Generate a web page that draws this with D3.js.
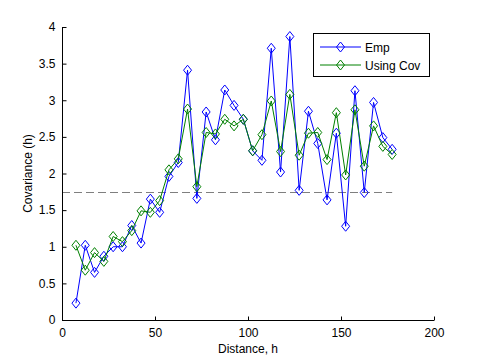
<!DOCTYPE html>
<html><head><meta charset="utf-8">
<script src="https://cdn.jsdelivr.net/npm/d3@7"></script>
<style>body{margin:0;background:#fff}svg{display:block}text{font-family:"Liberation Sans",Arial,sans-serif}</style>
</head><body><svg id="c" width="480" height="360"></svg>
<script>
const distances = [7.5,12.5,17.5,22.5,27.5,32.5,37.5,42.5,47.5,52.5,57.5,62.5,67.5,72.5,77.5,82.5,87.5,92.5,97.5,102.5,107.5,112.5,117.5,122.5,127.5,132.5,137.5,142.5,147.5,152.5,157.5,162.5,167.5,172.5,177.5];
const empValues = [0.23,1.02,0.65,0.87,1.0,1.0,1.29,1.05,1.65,1.47,1.96,2.15,3.41,1.66,2.84,2.46,3.14,2.93,2.74,2.31,2.18,3.71,2.02,3.87,1.77,2.85,2.41,1.64,2.55,1.28,3.13,1.74,2.97,2.49,2.33];
const covValues = [1.02,0.68,0.92,0.8,1.14,1.07,1.22,1.49,1.47,1.63,2.05,2.2,2.88,1.82,2.56,2.54,2.74,2.65,2.74,2.31,2.53,2.99,2.3,3.08,2.25,2.55,2.56,2.19,2.83,1.98,2.87,2.1,2.65,2.37,2.26];
const seriesNames = ["Emp","Using Cov"];
const seriesColors = ["#0000ff","#008000"];
const sillValue = 1.75;
const xTicks = [0,50,100,150,200];
const yTicks = [0,0.5,1,1.5,2,2.5,3,3.5,4];

const svg = d3.select("#c");
const L=62,R=434,T=27,B=320;
const x = d3.scaleLinear().domain([0,200]).range([L,R]);
const y = d3.scaleLinear().domain([0,4]).range([B,T]);

// dashed sill line
svg.append("line").attr("x1",x(0)).attr("x2",x(d3.max(distances)))
  .attr("y1",Math.round(y(sillValue))+0.5).attr("y2",Math.round(y(sillValue))+0.5)
  .attr("stroke","#7f7f7f").attr("stroke-width",1).attr("stroke-dasharray","8,4");

const diamond = "M0,-5L4,0L0,5L-4,0Z";
[empValues,covValues].forEach((vals,i)=>{
  const pts = distances.map((d,j)=>[x(d),y(vals[j])]);
  svg.append("path").attr("d",d3.line()(pts)).attr("fill","none")
    .attr("stroke",seriesColors[i]).attr("stroke-width",1);
  svg.append("g").selectAll("path").data(pts).join("path")
    .attr("transform",p=>`translate(${p[0]},${p[1]})`).attr("d",diamond)
    .attr("fill","none").attr("stroke",seriesColors[i]).attr("stroke-width",1);
});

// axes
const xa = svg.append("g").attr("transform",`translate(0,${B+0.5})`)
  .call(d3.axisBottom(x).tickValues(xTicks).tickSize(-4).tickPadding(8).tickFormat(d3.format("d")));
const ya = svg.append("g").attr("transform",`translate(${L+0.5},0)`)
  .call(d3.axisLeft(y).tickValues(yTicks).tickSize(-4).tickPadding(7).tickFormat(d=>String(d)));
[xa,ya].forEach(a=>{
  a.select(".domain").attr("stroke","#000");
  a.selectAll(".tick line").attr("stroke","#000");
  a.selectAll("text").attr("font-size",12).attr("fill","#000").attr("font-family","Liberation Sans, Arial, sans-serif");
});
xa.select(".domain").attr("d",`M${L},0H${R}`);
ya.select(".domain").attr("d",`M0,${B}V${T}`);

svg.append("text").attr("x",(L+R)/2).attr("y",353).attr("text-anchor","middle")
  .attr("font-size",12).text("Distance, h");
svg.append("text").attr("transform",`translate(32,${(T+B)/2}) rotate(-90)`).attr("text-anchor","middle")
  .attr("font-size",12).text("Covariance (h)");

// legend
const lg = svg.append("g");
lg.append("rect").attr("x",313.5).attr("y",33.5).attr("width",116).attr("height",43)
  .attr("fill","#fff").attr("stroke","#000");
seriesNames.forEach((n,i)=>{
  const yy = 47 + i*18;
  lg.append("line").attr("x1",320).attr("x2",361).attr("y1",yy).attr("y2",yy)
    .attr("stroke",seriesColors[i]);
  lg.append("path").attr("d",diamond).attr("transform",`translate(340.5,${yy})`)
    .attr("fill","none").attr("stroke",seriesColors[i]);
  lg.append("text").attr("x",365).attr("y",yy+4.5).attr("font-size",12).text(n);
});
</script></body></html>
